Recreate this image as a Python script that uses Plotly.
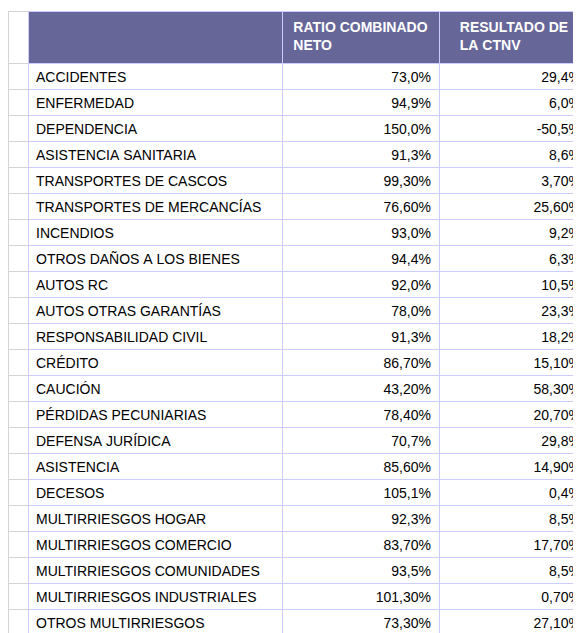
import plotly.graph_objects as go

ramos = ["ACCIDENTES", "ENFERMEDAD", "DEPENDENCIA", "ASISTENCIA SANITARIA",
         "TRANSPORTES DE CASCOS", "TRANSPORTES DE MERCANCÍAS", "INCENDIOS",
         "OTROS DAÑOS A LOS BIENES", "AUTOS RC", "AUTOS OTRAS GARANTÍAS",
         "RESPONSABILIDAD CIVIL", "CRÉDITO", "CAUCIÓN", "PÉRDIDAS PECUNIARIAS",
         "DEFENSA JURÍDICA", "ASISTENCIA", "DECESOS", "MULTIRRIESGOS HOGAR",
         "MULTIRRIESGOS COMERCIO", "MULTIRRIESGOS COMUNIDADES",
         "MULTIRRIESGOS INDUSTRIALES", "OTROS MULTIRRIESGOS"]
ratio = ["73,0%", "94,9%", "150,0%", "91,3%", "99,30%", "76,60%", "93,0%",
         "94,4%", "92,0%", "78,0%", "91,3%", "86,70%", "43,20%", "78,40%",
         "70,7%", "85,60%", "105,1%", "92,3%", "83,70%", "93,5%", "101,30%", "73,30%"]
resultado = ["29,4%", "6,0%", "-50,5%", "8,6%", "3,70%", "25,60%", "9,2%",
             "6,3%", "10,5%", "23,3%", "18,2%", "15,10%", "58,30%", "20,70%",
             "29,8%", "14,90%", "0,4%", "8,5%", "17,70%", "8,5%", "0,70%", "27,10%"]
headers = ["", "", "<b>RATIO\u00a0COMBINADO<br>NETO</b>", "<b>RESULTADO\u00a0DE<br>LA\u00a0CTNV</b>"]

nb = lambda s: s.replace(" ", "\u00a0")

W, H = 581, 633
fig = go.Figure(go.Table(
    domain=dict(x=[0, 1], y=[0, 1 - 3 / H]),
    columnwidth=[20, 254, 157, 150],
    header=dict(
        values=headers,
        fill_color=["white", "#666699", "#666699", "#666699"],
        line_color=["#d4d4d4", "#ccccff", "#ccccff", "#ccccff"],
        font=dict(family="Liberation Sans, Arial", size=14, color="white"),
        align=["left", "left", "center", "center"],
        height=52,
    ),
    cells=dict(
        values=[[""] * len(ramos), [nb(r) for r in ramos], ratio, resultado],
        fill_color="white",
        line_color=["#d4d4d4", "#ccccff", "#ccccff", "#ccccff"],
        font=dict(family="Liberation Sans, Arial", size=14, color="black"),
        align=["left", "left", "right", "right"],
        height=26,
    ),
))
fig.update_layout(width=W, height=H, margin=dict(l=0, r=0, t=0, b=0),
                  paper_bgcolor="white")
fig.write_html("out.html")
